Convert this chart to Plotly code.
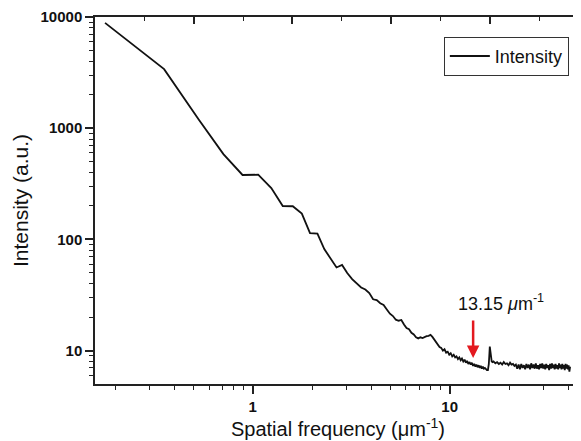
import math
import plotly.graph_objects as go

# ---- data ----
freq = [0.178, 0.355, 0.533, 0.710, 0.888, 1.066, 1.243, 1.421, 1.598, 1.776,
        1.954, 2.131, 2.309, 2.486, 2.664, 2.842, 3.019, 3.197, 3.374, 3.552,
        3.730, 3.907, 4.085, 4.262, 4.440, 4.618, 4.795, 4.973,
        5.151, 5.328, 5.506, 5.683, 5.861, 6.039, 6.216, 6.394, 6.571, 6.749,
        6.926, 7.104, 7.282, 7.459, 7.637, 7.814, 7.992, 8.170, 8.347, 8.525,
        8.702, 8.880, 9.058, 9.235, 9.413, 9.590, 9.768, 9.946,
        10.12, 10.30, 10.48, 10.66, 10.83, 11.01, 11.19, 11.37, 11.54, 11.72,
        11.90, 12.08, 12.25, 12.43, 12.61, 12.79, 12.96, 13.14, 13.32, 13.50,
        13.67, 13.85, 14.03, 14.21, 14.38, 14.56, 14.74, 14.92, 15.09, 15.27,
        15.45, 15.63, 15.80, 15.98, 16.16, 16.34, 16.51,
        16.69, 17.05, 17.40, 17.76, 18.11, 18.47, 18.82, 19.18, 19.54, 19.89,
        20.25, 20.60, 20.96, 21.31, 21.67, 22.02, 22.38, 22.73, 23.09, 23.45,
        23.80, 24.16, 24.51, 24.87, 25.22, 25.58, 25.93, 26.29, 26.64, 27.00,
        27.36, 27.71, 28.07, 28.42, 28.78, 29.13, 29.49, 29.84, 30.20, 30.55,
        30.91, 31.27, 31.62, 31.98, 32.33, 32.69, 33.04, 33.40, 33.75, 34.11,
        34.46, 34.82, 35.18, 35.53, 35.89, 36.24, 36.60, 36.95, 37.31, 37.66,
        38.02, 38.37, 38.73, 39.09, 39.44, 39.80, 40.15, 40.51, 40.86]

intensity = [8850, 3400, 1190, 585, 380, 382, 290, 200, 199, 171,
             114, 113, 82, 67, 56, 59, 50, 44, 40.5, 37,
             35.5, 33, 29, 28.5, 26.7, 25.8, 23.5, 21.5,
             20.5, 19.0, 18.6, 18.9, 17.2, 16.0, 15.6, 14.5, 14.0, 13.2,
             12.9, 13.2, 13.0, 13.3, 13.5, 13.6, 13.9, 13.3, 12.6, 11.8,
             11.5, 10.8, 10.6, 10.0, 10.3, 9.6, 9.8, 9.2,
             9.5, 8.9, 9.2, 8.7, 8.9, 8.4, 8.7, 8.2, 8.5, 8.0,
             8.3, 7.8, 8.1, 7.6, 7.9, 7.5, 7.8, 7.3, 7.6, 7.2,
             7.5, 7.1, 7.4, 7.0, 7.3, 6.9, 7.2, 6.9, 7.0, 6.8,
             6.7, 6.7, 7.6, 10.9, 8.8, 8.0, 7.9,
             8.0, 7.7, 7.9, 7.6, 7.8, 7.5, 7.9, 7.6, 7.7, 7.4,
             7.8, 7.5, 7.6, 7.3, 7.5, 6.9, 7.5, 6.8, 7.6, 7.0,
             7.4, 6.8, 7.6, 7.0, 7.5, 6.8, 7.7, 7.0, 7.5, 6.9,
             7.7, 6.9, 7.4, 6.8, 7.6, 7.0, 7.7, 6.9, 7.5, 6.8,
             7.6, 7.0, 7.4, 6.7, 7.6, 6.9, 7.7, 7.0, 7.5, 6.8,
             7.6, 6.9, 7.4, 6.8, 7.7, 7.0, 7.5, 6.8, 7.6, 6.9,
             7.4, 6.7, 7.6, 6.9, 7.5, 6.8, 7.4, 6.5, 7.2]

x_tickvals = [1, 10]
x_ticktext = ["<b>1</b>", "<b>10</b>"]
x_minor = [0.2, 0.3, 0.4, 0.5, 0.6, 0.7, 0.8, 0.9, 2, 3, 4, 5, 6, 7, 8, 9, 20, 30, 40]
y_tickvals = [10, 100, 1000, 10000]
y_ticktext = ["<b>10</b>", "<b>100</b>", "<b>1000</b>", "<b>10000</b>"]
y_minor = [6, 7, 8, 9, 20, 30, 40, 50, 60, 70, 80, 90, 200, 300, 400, 500, 600, 700,
           800, 900, 2000, 3000, 4000, 5000, 6000, 7000, 8000, 9000]
peak_freq = 13.15
peak_label = "13.15 <i>μ</i>m<sup>-1</sup>"

FONT = "Liberation Sans, Arial, sans-serif"
AX = "#222222"

fig = go.Figure()
fig.add_trace(go.Scatter(x=freq, y=intensity, mode="lines", name="Intensity",
                         line=dict(color="#111111", width=1.8)))
# empty trace to register the top (mirror-tick) axis
fig.add_trace(go.Scatter(x=[], y=[], xaxis="x2", showlegend=False, hoverinfo="skip"))

# the page body has an 8px margin, so the figure is 8px smaller than the window
fig.update_layout(
    width=573, height=433,
    margin=dict(l=87, r=0, t=9, b=57),
    paper_bgcolor="white", plot_bgcolor="white",
    font=dict(family=FONT, color="#111111"),
    showlegend=True,
    legend=dict(x=0.975, y=0.946, xanchor="right", yanchor="top",
                bordercolor="#333333", borderwidth=1, bgcolor="white",
                font=dict(size=18, family=FONT), itemwidth=40,
                tracegroupgap=0),
    xaxis=dict(type="log", range=[math.log10(0.1583), math.log10(46.4)],
               showgrid=False, zeroline=False, showline=True, linecolor=AX, linewidth=1.5,
               ticks="outside", ticklen=8, tickwidth=1.5, tickcolor=AX,
               tickmode="array", tickvals=x_tickvals, ticktext=x_ticktext,
               tickfont=dict(size=15, family=FONT),
               minor=dict(tickmode="array", tickvals=x_minor, ticks="outside",
                          ticklen=4, tickwidth=1.3, tickcolor=AX),
               title=dict(text="Spatial frequency (μm<sup>-1</sup>)",
                          font=dict(size=20, family=FONT), standoff=7)),
    xaxis2=dict(overlaying="x", side="top", range=[0, 4.924], showgrid=False,
                zeroline=False, showline=True, linecolor=AX, linewidth=1.5,
                ticks="inside", ticklen=7, tickwidth=1.5, tickcolor=AX,
                tickmode="linear", tick0=0, dtick=1, showticklabels=False,
                minor=dict(ticks="inside", ticklen=4, tickwidth=1.3, tickcolor=AX,
                           tickmode="linear", tick0=0.5, dtick=1)),
    yaxis=dict(type="log", range=[math.log10(5.02), 4],
               showgrid=False, zeroline=False, showline=True, linecolor=AX, linewidth=1.5,
               ticks="outside", ticklen=8, tickwidth=1.5, tickcolor=AX,
               tickmode="array", tickvals=y_tickvals, ticktext=y_ticktext,
               tickfont=dict(size=15, family=FONT),
               minor=dict(tickmode="array", tickvals=y_minor, ticks="outside",
                          ticklen=4, tickwidth=1.3, tickcolor=AX),
               title=dict(text="Intensity (a.u.)", font=dict(size=21, family=FONT),
                          standoff=6)),
)

# red arrow marking the peak
fig.add_annotation(x=math.log10(peak_freq), y=math.log10(8.6), xref="x", yref="y",
                   text=" ", showarrow=True, ax=0, ay=-46, axref="pixel", ayref="pixel",
                   arrowhead=2, arrowsize=1, arrowwidth=2.5, arrowcolor="#e3191f")
fig.add_annotation(x=math.log10(18.3), y=math.log10(27.4), xref="x", yref="y",
                   text=peak_label, showarrow=False,
                   font=dict(size=18, family=FONT, color="#111111"))

fig.write_html("out.html")
